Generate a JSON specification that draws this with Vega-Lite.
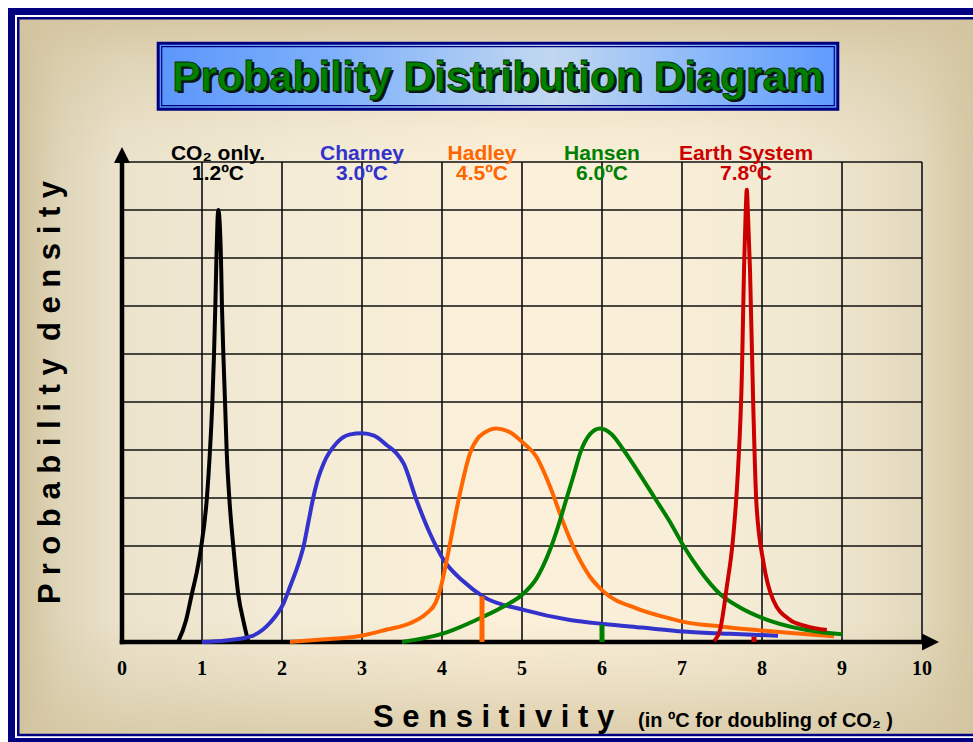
{
  "$schema": "https://vega.github.io/schema/vega-lite/v6.json",
  "width": 973,
  "height": 742,
  "autosize": {"type": "none"},
  "padding": 0,
  "background": "white",
  "config": {"view": {"stroke": null, "fill": "white"}},
  "datasets": {
    "curves": [
      {"s": "co2", "x": 0.70, "y": 0},
      {"s": "co2", "x": 0.80, "y": 0.45},
      {"s": "co2", "x": 0.871, "y": 0.985},
      {"s": "co2", "x": 0.94, "y": 1.5},
      {"s": "co2", "x": 0.99, "y": 1.985},
      {"s": "co2", "x": 1.06, "y": 2.98},
      {"s": "co2", "x": 1.10, "y": 4.0},
      {"s": "co2", "x": 1.13, "y": 5.02},
      {"s": "co2", "x": 1.15, "y": 5.99},
      {"s": "co2", "x": 1.166, "y": 6.96},
      {"s": "co2", "x": 1.18, "y": 7.97},
      {"s": "co2", "x": 1.193, "y": 8.75},
      {"s": "co2", "x": 1.204, "y": 9.0},
      {"s": "co2", "x": 1.222, "y": 8.7},
      {"s": "co2", "x": 1.2375, "y": 7.97},
      {"s": "co2", "x": 1.25, "y": 6.96},
      {"s": "co2", "x": 1.267, "y": 5.99},
      {"s": "co2", "x": 1.2875, "y": 5.02},
      {"s": "co2", "x": 1.308, "y": 4.0},
      {"s": "co2", "x": 1.342, "y": 2.98},
      {"s": "co2", "x": 1.392, "y": 1.985},
      {"s": "co2", "x": 1.454, "y": 0.985},
      {"s": "co2", "x": 1.52, "y": 0.42},
      {"s": "co2", "x": 1.579, "y": 0},

      {"s": "charney", "x": 1.0, "y": 0},
      {"s": "charney", "x": 1.3, "y": 0.03},
      {"s": "charney", "x": 1.6, "y": 0.11},
      {"s": "charney", "x": 1.85, "y": 0.4},
      {"s": "charney", "x": 2.02, "y": 0.81},
      {"s": "charney", "x": 2.1, "y": 1.15},
      {"s": "charney", "x": 2.2, "y": 1.6},
      {"s": "charney", "x": 2.27, "y": 2.0},
      {"s": "charney", "x": 2.33, "y": 2.5},
      {"s": "charney", "x": 2.39, "y": 3.0},
      {"s": "charney", "x": 2.45, "y": 3.4},
      {"s": "charney", "x": 2.52, "y": 3.72},
      {"s": "charney", "x": 2.68, "y": 4.14},
      {"s": "charney", "x": 2.84, "y": 4.32},
      {"s": "charney", "x": 3.0, "y": 4.35},
      {"s": "charney", "x": 3.15, "y": 4.3},
      {"s": "charney", "x": 3.31, "y": 4.1},
      {"s": "charney", "x": 3.42, "y": 3.95},
      {"s": "charney", "x": 3.52, "y": 3.72},
      {"s": "charney", "x": 3.68, "y": 2.96},
      {"s": "charney", "x": 3.85, "y": 2.26},
      {"s": "charney", "x": 4.02, "y": 1.71},
      {"s": "charney", "x": 4.27, "y": 1.26},
      {"s": "charney", "x": 4.52, "y": 0.94},
      {"s": "charney", "x": 5.02, "y": 0.67},
      {"s": "charney", "x": 5.6, "y": 0.46},
      {"s": "charney", "x": 6.02, "y": 0.375},
      {"s": "charney", "x": 6.5, "y": 0.3},
      {"s": "charney", "x": 7.02, "y": 0.22},
      {"s": "charney", "x": 7.6, "y": 0.17},
      {"s": "charney", "x": 8.2, "y": 0.13},

      {"s": "hadley", "x": 2.1, "y": 0},
      {"s": "hadley", "x": 2.5, "y": 0.05},
      {"s": "hadley", "x": 2.975, "y": 0.125},
      {"s": "hadley", "x": 3.31, "y": 0.26},
      {"s": "hadley", "x": 3.6, "y": 0.39},
      {"s": "hadley", "x": 3.81, "y": 0.6},
      {"s": "hadley", "x": 3.92, "y": 0.82},
      {"s": "hadley", "x": 3.975, "y": 1.08},
      {"s": "hadley", "x": 4.06, "y": 1.71},
      {"s": "hadley", "x": 4.14, "y": 2.4},
      {"s": "hadley", "x": 4.225, "y": 3.1},
      {"s": "hadley", "x": 4.35, "y": 3.93},
      {"s": "hadley", "x": 4.45, "y": 4.25},
      {"s": "hadley", "x": 4.52, "y": 4.35},
      {"s": "hadley", "x": 4.68, "y": 4.45},
      {"s": "hadley", "x": 4.85, "y": 4.37},
      {"s": "hadley", "x": 5.02, "y": 4.14},
      {"s": "hadley", "x": 5.18, "y": 3.86},
      {"s": "hadley", "x": 5.35, "y": 3.24},
      {"s": "hadley", "x": 5.52, "y": 2.47},
      {"s": "hadley", "x": 5.68, "y": 1.85},
      {"s": "hadley", "x": 5.85, "y": 1.36},
      {"s": "hadley", "x": 6.02, "y": 1.05},
      {"s": "hadley", "x": 6.43, "y": 0.7},
      {"s": "hadley", "x": 6.85, "y": 0.49},
      {"s": "hadley", "x": 7.02, "y": 0.42},
      {"s": "hadley", "x": 7.5, "y": 0.32},
      {"s": "hadley", "x": 7.93, "y": 0.25},
      {"s": "hadley", "x": 8.4, "y": 0.18},
      {"s": "hadley", "x": 8.9, "y": 0.12},

      {"s": "hansen", "x": 3.5, "y": 0},
      {"s": "hansen", "x": 4.02, "y": 0.18},
      {"s": "hansen", "x": 4.52, "y": 0.53},
      {"s": "hansen", "x": 4.77, "y": 0.74},
      {"s": "hansen", "x": 5.02, "y": 1.01},
      {"s": "hansen", "x": 5.18, "y": 1.32},
      {"s": "hansen", "x": 5.35, "y": 1.92},
      {"s": "hansen", "x": 5.45, "y": 2.4},
      {"s": "hansen", "x": 5.55, "y": 2.95},
      {"s": "hansen", "x": 5.65, "y": 3.5},
      {"s": "hansen", "x": 5.73, "y": 3.95},
      {"s": "hansen", "x": 5.85, "y": 4.33},
      {"s": "hansen", "x": 5.975, "y": 4.45},
      {"s": "hansen", "x": 6.12, "y": 4.33},
      {"s": "hansen", "x": 6.27, "y": 4.0},
      {"s": "hansen", "x": 6.45, "y": 3.55},
      {"s": "hansen", "x": 6.66, "y": 3.0},
      {"s": "hansen", "x": 6.85, "y": 2.5},
      {"s": "hansen", "x": 7.02, "y": 2.0},
      {"s": "hansen", "x": 7.22, "y": 1.5},
      {"s": "hansen", "x": 7.475, "y": 1.0},
      {"s": "hansen", "x": 7.725, "y": 0.72},
      {"s": "hansen", "x": 8.14, "y": 0.42},
      {"s": "hansen", "x": 8.56, "y": 0.25},
      {"s": "hansen", "x": 9.0, "y": 0.16},

      {"s": "earth", "x": 7.4, "y": 0.02},
      {"s": "earth", "x": 7.475, "y": 0.25},
      {"s": "earth", "x": 7.56, "y": 1.15},
      {"s": "earth", "x": 7.64, "y": 2.19},
      {"s": "earth", "x": 7.70, "y": 3.58},
      {"s": "earth", "x": 7.75, "y": 5.67},
      {"s": "earth", "x": 7.775, "y": 7.75},
      {"s": "earth", "x": 7.795, "y": 8.9},
      {"s": "earth", "x": 7.81, "y": 9.42},
      {"s": "earth", "x": 7.825, "y": 8.9},
      {"s": "earth", "x": 7.85, "y": 7.75},
      {"s": "earth", "x": 7.89, "y": 4.97},
      {"s": "earth", "x": 7.93, "y": 2.89},
      {"s": "earth", "x": 8.02, "y": 1.64},
      {"s": "earth", "x": 8.14, "y": 0.875},
      {"s": "earth", "x": 8.35, "y": 0.46},
      {"s": "earth", "x": 8.55, "y": 0.33},
      {"s": "earth", "x": 8.81, "y": 0.25}
    ],
    "markers": [
      {"s": "hadley", "x": 4.5, "h": 0.95},
      {"s": "hansen", "x": 6.0, "h": 0.36},
      {"s": "earth", "x": 7.9, "h": 0.11}
    ],
    "labels": [
      {"s": "co2", "name": "CO₂ only.", "value": "1.2ºC", "x": 1.2},
      {"s": "charney", "name": "Charney", "value": "3.0ºC", "x": 3.0},
      {"s": "hadley", "name": "Hadley", "value": "4.5ºC", "x": 4.5},
      {"s": "hansen", "name": "Hansen", "value": "6.0ºC", "x": 6.0},
      {"s": "earth", "name": "Earth System", "value": "7.8ºC", "x": 7.8}
    ],
    "ticks": [
      {"v": 0}, {"v": 1}, {"v": 2}, {"v": 3}, {"v": 4}, {"v": 5},
      {"v": 6}, {"v": 7}, {"v": 8}, {"v": 9}, {"v": 10}
    ]
  },
  "layer": [
    {
      "data": {"values": [{}]},
      "mark": {"type": "rect", "fill": "white", "stroke": "#000080", "strokeWidth": 7},
      "encoding": {
        "x": {"datum": -1.38125, "type": "quantitative", "axis": null},
        "x2": {"datum": 10.85},
        "y": {"datum": 13.1354, "type": "quantitative", "axis": null},
        "y2": {"datum": -2.0729}
      }
    },
    {
      "data": {"values": [{}]},
      "mark": {"type": "rect", "fill": {"gradient": "linear", "x1": 0, "y1": 0, "x2": 1, "y2": 0, "stops": [
        {"offset": 0, "color": "#d1c29d"},
        {"offset": 0.043, "color": "#dfd5b8"},
        {"offset": 0.107, "color": "#ebe3cc"},
        {"offset": 0.29, "color": "#f4ecd6"},
        {"offset": 0.5, "color": "#fcf0da"},
        {"offset": 0.7, "color": "#f8eed7"},
        {"offset": 0.81, "color": "#f1e8d1"},
        {"offset": 0.88, "color": "#eae1c8"},
        {"offset": 0.933, "color": "#e2d8bb"},
        {"offset": 0.974, "color": "#d8cba8"},
        {"offset": 1, "color": "#d2c4a0"}
      ]}},
      "encoding": {
        "x": {"datum": -1.296875, "type": "quantitative", "axis": null},
        "x2": {"datum": 10.7875},
        "y": {"datum": 12.9948, "type": "quantitative", "axis": null},
        "y2": {"datum": -1.9375}
      }
    },
    {
      "data": {"values": [{}]},
      "mark": {"type": "rect", "fill": {"gradient": "linear", "x1": 0, "y1": 0, "x2": 0, "y2": 1, "stops": [
        {"offset": 0, "color": "rgba(211,196,159,0.9)"},
        {"offset": 0.058, "color": "rgba(211,196,159,0.5)"},
        {"offset": 0.156, "color": "rgba(211,196,159,0.12)"},
        {"offset": 0.21, "color": "rgba(211,196,159,0)"},
        {"offset": 0.84, "color": "rgba(211,196,159,0)"},
        {"offset": 0.923, "color": "rgba(211,196,159,0.35)"},
        {"offset": 1, "color": "rgba(211,196,159,0.75)"}
      ]}},
      "encoding": {
        "x": {"datum": -1.296875, "type": "quantitative", "axis": null},
        "x2": {"datum": 10.7875},
        "y": {"datum": 12.9948, "type": "quantitative", "axis": null},
        "y2": {"datum": -1.9375}
      }
    },
    {
      "data": {"values": [{}]},
      "mark": {"type": "rect", "filled": false, "stroke": "#000080", "strokeWidth": 2.5},
      "encoding": {
        "x": {"datum": -1.296875, "type": "quantitative", "axis": null},
        "x2": {"datum": 10.7875},
        "y": {"datum": 12.9948, "type": "quantitative", "axis": null},
        "y2": {"datum": -1.9375}
      }
    },
    {
      "data": {"values": [{}]},
      "mark": {"type": "rect", "stroke": "#000080", "strokeWidth": 3, "fill": {"gradient": "linear", "x1": 0, "y1": 0, "x2": 1, "y2": 0, "stops": [
        {"offset": 0, "color": "#5b96fb"},
        {"offset": 0.25, "color": "#7db0fb"},
        {"offset": 0.58, "color": "#c2d8f0"},
        {"offset": 0.82, "color": "#86b6fa"},
        {"offset": 1, "color": "#5f9bff"}
      ]}},
      "encoding": {
        "x": {"datum": 0.4525, "type": "quantitative", "axis": null},
        "x2": {"datum": 8.9475},
        "y": {"datum": 12.475, "type": "quantitative", "axis": null},
        "y2": {"datum": 11.1}
      }
    },
    {
      "data": {"values": [{}]},
      "mark": {"type": "rect", "filled": false, "stroke": "#000080", "strokeWidth": 1.2},
      "encoding": {
        "x": {"datum": 0.49625, "type": "quantitative", "axis": null},
        "x2": {"datum": 8.90375},
        "y": {"datum": 12.402, "type": "quantitative", "axis": null},
        "y2": {"datum": 11.173}
      }
    },
    {
      "data": {"values": [{}]},
      "mark": {"type": "text", "font": "Liberation Sans", "fontWeight": "bold", "fontSize": 42.5, "align": "center", "baseline": "alphabetic", "fill": "#111111", "dx": 2.5, "dy": 2.5},
      "encoding": {
        "x": {"datum": 4.7, "type": "quantitative", "axis": null},
        "y": {"datum": 11.4854, "type": "quantitative", "axis": null},
        "text": {"value": "Probability Distribution Diagram"}
      }
    },
    {
      "data": {"values": [{}]},
      "mark": {"type": "text", "font": "Liberation Sans", "fontWeight": "bold", "fontSize": 42.5, "align": "center", "baseline": "alphabetic", "fill": "#008000", "stroke": "#003300", "strokeWidth": 0.8},
      "encoding": {
        "x": {"datum": 4.7, "type": "quantitative", "axis": null},
        "y": {"datum": 11.4854, "type": "quantitative", "axis": null},
        "text": {"value": "Probability Distribution Diagram"}
      }
    },
    {
      "data": {"name": "ticks"},
      "mark": {"type": "rule", "stroke": "#3a3a3a", "strokeWidth": 2},
      "encoding": {
        "x": {"field": "v", "type": "quantitative", "scale": {"domain": [-1.525, 10.6375], "nice": false, "zero": false}, "axis": null},
        "y": {"datum": 0, "type": "quantitative", "axis": null},
        "y2": {"datum": 10}
      }
    },
    {
      "data": {"name": "ticks"},
      "mark": {"type": "rule", "stroke": "#111111", "strokeWidth": 1.6},
      "encoding": {
        "y": {"field": "v", "type": "quantitative", "scale": {"domain": [-2.0833333, 13.375], "nice": false, "zero": false}, "axis": null},
        "x": {"datum": 0, "type": "quantitative", "axis": null},
        "x2": {"datum": 10}
      }
    },
    {
      "data": {"values": [{}]},
      "mark": {"type": "rule", "stroke": "black", "strokeWidth": 4.5, "strokeCap": "square"},
      "encoding": {
        "x": {"datum": 0, "type": "quantitative", "axis": null},
        "x2": {"datum": 10},
        "y": {"datum": 0, "type": "quantitative", "axis": null}
      }
    },
    {
      "data": {"values": [{}]},
      "mark": {"type": "rule", "stroke": "black", "strokeWidth": 4.5, "strokeCap": "square"},
      "encoding": {
        "x": {"datum": 0, "type": "quantitative", "axis": null},
        "y": {"datum": 0, "type": "quantitative", "axis": null},
        "y2": {"datum": 10}
      }
    },
    {
      "data": {"values": [{}]},
      "mark": {"type": "point", "shape": "M-1,-1L1,0L-1,1Z", "size": 289, "filled": true, "color": "black", "opacity": 1, "strokeWidth": 0},
      "encoding": {
        "x": {"datum": 10.10625, "type": "quantitative", "axis": null},
        "y": {"datum": 0, "type": "quantitative", "axis": null}
      }
    },
    {
      "data": {"values": [{}]},
      "mark": {"type": "point", "shape": "M-1,1L0,-1L1,1Z", "size": 256, "filled": true, "color": "black", "opacity": 1, "strokeWidth": 0},
      "encoding": {
        "x": {"datum": 0, "type": "quantitative", "axis": null},
        "y": {"datum": 10.1458, "type": "quantitative", "axis": null}
      }
    },
    {
      "data": {"name": "ticks"},
      "mark": {"type": "text", "font": "Liberation Serif", "fontWeight": "bold", "fontSize": 20, "align": "center", "baseline": "alphabetic", "fill": "black"},
      "encoding": {
        "x": {"field": "v", "type": "quantitative", "scale": {"domain": [-1.525, 10.6375], "nice": false, "zero": false}, "axis": null},
        "y": {"datum": -0.6875, "type": "quantitative", "axis": null},
        "text": {"field": "v", "type": "quantitative"}
      }
    },
    {
      "data": {"name": "curves"},
      "mark": {"type": "line", "strokeWidth": 4, "interpolate": "monotone"},
      "encoding": {
        "x": {"field": "x", "type": "quantitative", "scale": {"domain": [-1.525, 10.6375], "nice": false, "zero": false}, "axis": null},
        "y": {"field": "y", "type": "quantitative", "scale": {"domain": [-2.0833333, 13.375], "nice": false, "zero": false}, "axis": null},
        "color": {"field": "s", "type": "nominal", "scale": {"domain": ["co2", "charney", "hadley", "hansen", "earth"], "range": ["#000000", "#3333cc", "#ff6600", "#008000", "#cc0000"]}, "legend": null},
        "detail": {"field": "s", "type": "nominal"}
      }
    },
    {
      "data": {"name": "markers"},
      "mark": {"type": "rule", "strokeWidth": 5},
      "encoding": {
        "x": {"field": "x", "type": "quantitative", "scale": {"domain": [-1.525, 10.6375], "nice": false, "zero": false}, "axis": null},
        "y": {"field": "h", "type": "quantitative", "scale": {"domain": [-2.0833333, 13.375], "nice": false, "zero": false}, "axis": null},
        "y2": {"datum": 0},
        "color": {"field": "s", "type": "nominal", "scale": {"domain": ["co2", "charney", "hadley", "hansen", "earth"], "range": ["#000000", "#3333cc", "#ff6600", "#008000", "#cc0000"]}, "legend": null}
      }
    },
    {
      "data": {"name": "labels"},
      "mark": {"type": "text", "font": "Liberation Sans", "fontWeight": "bold", "fontSize": 21, "align": "center", "baseline": "alphabetic"},
      "encoding": {
        "x": {"field": "x", "type": "quantitative", "scale": {"domain": [-1.525, 10.6375], "nice": false, "zero": false}, "axis": null},
        "y": {"datum": 10.0417, "type": "quantitative", "axis": null},
        "text": {"field": "name", "type": "nominal"},
        "color": {"field": "s", "type": "nominal", "scale": {"domain": ["co2", "charney", "hadley", "hansen", "earth"], "range": ["#000000", "#3333cc", "#ff6600", "#008000", "#cc0000"]}, "legend": null}
      }
    },
    {
      "data": {"name": "labels"},
      "mark": {"type": "text", "font": "Liberation Sans", "fontWeight": "bold", "fontSize": 21, "align": "center", "baseline": "alphabetic"},
      "encoding": {
        "x": {"field": "x", "type": "quantitative", "scale": {"domain": [-1.525, 10.6375], "nice": false, "zero": false}, "axis": null},
        "y": {"datum": 9.625, "type": "quantitative", "axis": null},
        "text": {"field": "value", "type": "nominal"},
        "color": {"field": "s", "type": "nominal", "scale": {"domain": ["co2", "charney", "hadley", "hansen", "earth"], "range": ["#000000", "#3333cc", "#ff6600", "#008000", "#cc0000"]}, "legend": null}
      }
    },
    {
      "data": {"values": [{}]},
      "mark": {"type": "text", "font": "Liberation Sans", "fontWeight": "bold", "fontSize": 31, "align": "left", "baseline": "alphabetic", "fill": "black"},
      "encoding": {
        "x": {"datum": 3.1375, "type": "quantitative", "axis": null},
        "y": {"datum": -1.7646, "type": "quantitative", "axis": null},
        "text": {"value": "S e n s i t i v i t y"}
      }
    },
    {
      "data": {"values": [{}]},
      "mark": {"type": "text", "font": "Liberation Sans", "fontWeight": "bold", "fontSize": 20, "align": "left", "baseline": "alphabetic", "fill": "black"},
      "encoding": {
        "x": {"datum": 6.45, "type": "quantitative", "axis": null},
        "y": {"datum": -1.7646, "type": "quantitative", "axis": null},
        "text": {"value": "(in ºC for doubling of CO₂ )"}
      }
    },
    {
      "data": {"values": [{}]},
      "mark": {"type": "text", "font": "Liberation Sans", "fontWeight": "bold", "fontSize": 31, "align": "center", "baseline": "alphabetic", "angle": 270, "fill": "black"},
      "encoding": {
        "x": {"datum": -0.775, "type": "quantitative", "axis": null},
        "y": {"datum": 5.198, "type": "quantitative", "axis": null},
        "text": {"value": "P r o b a b i l i t y\u00a0 d e n s i t y"}
      }
    }
  ]
}
